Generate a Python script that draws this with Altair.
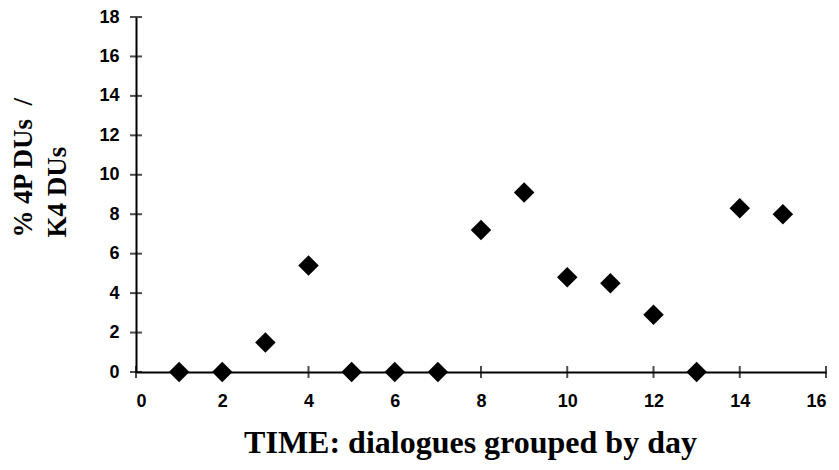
import altair as alt
import pandas as pd

days = [1, 2, 3, 4, 5, 6, 7, 8, 9, 10, 11, 12, 13, 14, 15]
pct = [0, 0, 1.5, 5.4, 0, 0, 0, 7.2, 9.1, 4.8, 4.5, 2.9, 0, 8.3, 8.0]
x_ticks = [0, 2, 4, 6, 8, 10, 12, 14, 16]
y_ticks = [0, 2, 4, 6, 8, 10, 12, 14, 16, 18]

df = pd.DataFrame({"day": days, "pct": pct})
xt = pd.DataFrame({"v": x_ticks, "zero": [0] * len(x_ticks)})
yt = pd.DataFrame({"v": y_ticks, "zero": [0] * len(y_ticks)})

xscale = alt.Scale(domain=[0, 16], nice=False, zero=False)
yscale = alt.Scale(domain=[0, 18], nice=False, zero=False)

label_font = "Liberation Sans"
title_font = "Liberation Serif"

xaxis = alt.Axis(
    values=x_ticks, ticks=False, grid=False, domainColor="black", domainWidth=2,
    labelFont=label_font, labelFontSize=18, labelFontWeight="bold", labelColor="black",
    labelPadding=20, labelOverlap=False,
    title="TIME: dialogues grouped by day", titleFont=title_font, titleFontSize=32,
    titleFontWeight="bold", titleColor="black", titleX=334, titleY=80,
    titleBaseline="alphabetic", titleAnchor="middle", titleAlign="center",
)
yaxis = alt.Axis(
    values=y_ticks, ticks=False, grid=False, domainColor="black", domainWidth=2,
    labelFont=label_font, labelFontSize=18, labelFontWeight="bold", labelColor="black",
    labelPadding=17, labelOverlap=False,
    title=["% 4P DUs\u00a0\u00a0/", "K4 DUs"], titleFont=title_font, titleFontSize=27,
    titleFontWeight="bold", titleColor="black", titleAngle=-90,
    titleX=-126, titleY=220, titleAlign="left", titleBaseline="top",
    titleLineHeight=34,
)

xticks = alt.Chart(xt).mark_tick(
    orient="vertical", color="black", size=12, thickness=2
).encode(x=alt.X("v:Q", scale=xscale, axis=xaxis),
         y=alt.Y("zero:Q", scale=yscale, axis=yaxis))

yticks = alt.Chart(yt).mark_tick(
    orient="horizontal", color="black", size=12, thickness=2
).encode(y=alt.Y("v:Q", scale=yscale, axis=yaxis),
         x=alt.X("zero:Q", scale=xscale, axis=xaxis))

points = alt.Chart(df).mark_point(
    shape="diamond", filled=True, color="black", size=420, opacity=1
).encode(
    x=alt.X("day:Q", scale=xscale, axis=xaxis),
    y=alt.Y("pct:Q", scale=yscale, axis=yaxis),
)

chart = alt.layer(xticks, yticks, points).properties(
    width=690, height=355,
    padding={"left": 136, "top": 17, "right": 13, "bottom": 98},
    autosize=alt.AutoSizeParams(type="none"),
    background="white",
).configure_view(stroke=None)

chart.save("out.html", embed_options={"renderer": "svg", "actions": False})
